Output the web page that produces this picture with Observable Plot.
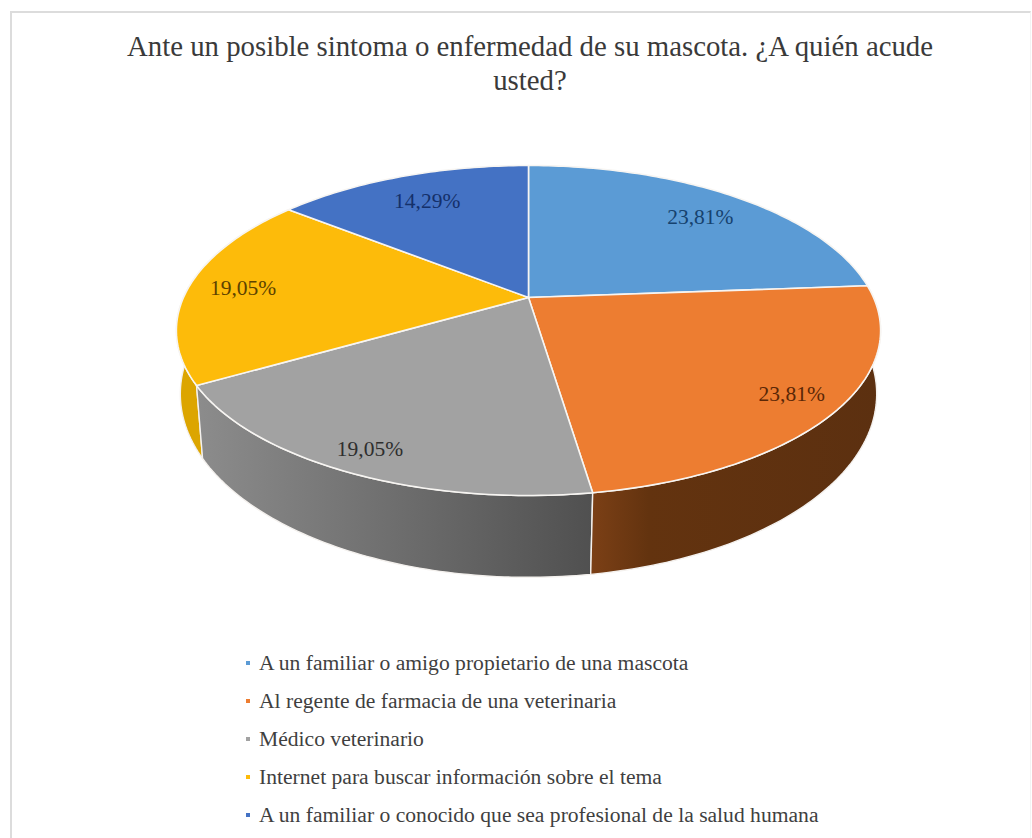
<!DOCTYPE html>
<html lang="es">
<head>
<meta charset="utf-8">
<script src="https://cdn.jsdelivr.net/npm/d3@7"></script>
<script src="https://cdn.jsdelivr.net/npm/@observablehq/plot@0.6"></script>
<style>
  html, body { margin: 0; padding: 0; background: #fff; }
  body { width: 1032px; height: 838px; overflow: hidden; position: relative; font-family: "Liberation Serif", serif; }
  #frame { position: absolute; left: 10px; top: 11px; right: 1px; bottom: -4px; border: 2px solid #dcdcdc; border-right: 1px solid #f3f3f3; border-bottom: 0; pointer-events: none; }
  #title { position: relative; height: 118px; box-sizing: border-box; padding-top: 29px; padding-left: 28px; text-align: center; font-size: 28.8px; line-height: 34px; color: #3a3a3a; white-space: nowrap; }
  #chart svg { display: block; }
  #legend { position: absolute; left: 246px; top: 644px; margin: 0; padding: 0; list-style: none; font-size: 21.6px; color: #3f3f3f; }
  #legend li { height: 38px; line-height: 38px; white-space: nowrap; display: flex; align-items: center; }
  #legend i { display: inline-block; width: 4px; height: 4px; margin-right: 9px; }
</style>
</head>
<body>
<div id="frame"></div>
<div id="title"></div>
<div id="chart"></div>
<ul id="legend"></ul>
<script>
const titleLines = ["Ante un posible sintoma o enfermedad de su mascota. ¿A quién acude", "usted?"];
const categories = [
  "A un familiar o amigo propietario de una mascota",
  "Al regente de farmacia de una veterinaria",
  "Médico veterinario",
  "Internet para buscar información sobre el tema",
  "A un familiar o conocido que sea profesional de la salud humana"
];
const shares = [23.81, 23.81, 19.05, 19.05, 14.29];

const topColors = ["#5b9bd5", "#ed7d31", "#a2a2a2", "#fdbb0a", "#4472c4"];
const labelColors = ["#16426e", "#5a2706", "#2e2e2e", "#5c4200", "#14306a"];
const sideStops = [
  null,
  [["0%", "#7c4016"], ["20%", "#63330f"], ["100%", "#5c3010"]],
  [["0%", "#8c8c8c"], ["100%", "#505050"]],
  [["0%", "#dca500"], ["100%", "#dca500"]],
  null
];
const labelRadius = [0.79, 0.87, 0.89, 0.84, 0.77];
const labelAngleShift = [1.7, 0, 0, 0, 0];

// 3-D pie geometry: a unit disc projected with a simple perspective
const unit = 345, cx = 528, cy = 297, svgTop = 118, svgHeight = 490;
const top_ = (u, v) => {
  const d = 1 - 0.2 * v;
  return [u / d, (158.4 / unit) * v / d];
};
const bottom_ = (u, v) => {
  const d = 1 - 0.18 * v;
  return [(342.5 / unit) * u / d, ((112.5 * v + 360.5) / d - cy) / unit];
};
const polar = (a, r = 1) => [r * Math.sin(a), -r * Math.cos(a)];

const total = d3.sum(shares);
const cum = d3.cumsum(shares);
const slices = shares.map((s, i) => ({
  i,
  a0: (i ? cum[i - 1] : 0) / total * 2 * Math.PI,
  a1: cum[i] / total * 2 * Math.PI
}));
const arc = (a0, a1) => {
  const n = Math.max(2, Math.ceil((a1 - a0) / (Math.PI / 180)));
  return d3.range(n + 1).map(k => a0 + (a1 - a0) * k / n);
};
const toPoint = ([x, y]) => ({x, y});

const topPath = s => {
  const pts = [top_(0, 0), ...arc(s.a0, s.a1).map(a => top_(...polar(a))), top_(0, 0)];
  return pts.map(toPoint);
};
const sidePath = s => {
  const as = arc(s.a0, s.a1);
  const t = as.map(a => top_(...polar(a)));
  const b = as.slice().reverse().map(a => bottom_(...polar(a)));
  return [...t, ...b, t[0]].map(toPoint);
};
const labels = slices.map(s => {
  const mid = (s.a0 + s.a1) / 2 + labelAngleShift[s.i] * Math.PI / 180;
  const [x, y] = top_(...polar(mid, labelRadius[s.i]));
  return {x, y, text: shares[s.i].toFixed(2).replace(".", ",") + "%", color: labelColors[s.i]};
});

const defs = () => {
  const d = d3.create("svg:defs");
  sideStops.forEach((stops, i) => {
    if (!stops) return;
    const g = d.append("linearGradient").attr("id", "side" + i).attr("x1", 0).attr("x2", 1).attr("y1", 0).attr("y2", 0);
    stops.forEach(([o, c]) => g.append("stop").attr("offset", o).attr("stop-color", c));
  });
  return d.node();
};

const sideOrder = [3, 2, 1];
const chart = Plot.plot({
  width: 1032,
  height: svgHeight,
  margin: 0,
  style: {background: "transparent", overflow: "visible"},
  x: {domain: [-cx / unit, (1032 - cx) / unit], range: [0, 1032], axis: null},
  y: {domain: [(svgTop - cy) / unit, (svgTop + svgHeight - cy) / unit], range: [0, svgHeight], axis: null},
  marks: [
    defs,
    ...sideOrder.map(i => Plot.line(sidePath(slices[i]), {
      x: "x", y: "y", fill: `url(#side${i})`, stroke: "#f4f1ee", strokeWidth: 1.4, strokeLinejoin: "round"
    })),
    ...slices.map(s => Plot.line(topPath(s), {
      x: "x", y: "y", fill: topColors[s.i], stroke: "#f7f5f2", strokeWidth: 1.6, strokeLinejoin: "round"
    })),
    Plot.text(labels, {
      x: "x", y: "y", text: "text", fill: "color",
      fontFamily: "Liberation Serif", fontSize: 21.5, textAnchor: "middle"
    })
  ]
});
document.getElementById("chart").appendChild(chart);

const title = document.getElementById("title");
titleLines.forEach((t, i) => {
  if (i) title.appendChild(document.createElement("br"));
  title.appendChild(document.createTextNode(t));
});
const legend = d3.select("#legend");
categories.forEach((c, i) => {
  const li = legend.append("li");
  li.append("i").style("background", topColors[i]);
  li.append("span").text(c);
});
</script>
</body>
</html>
